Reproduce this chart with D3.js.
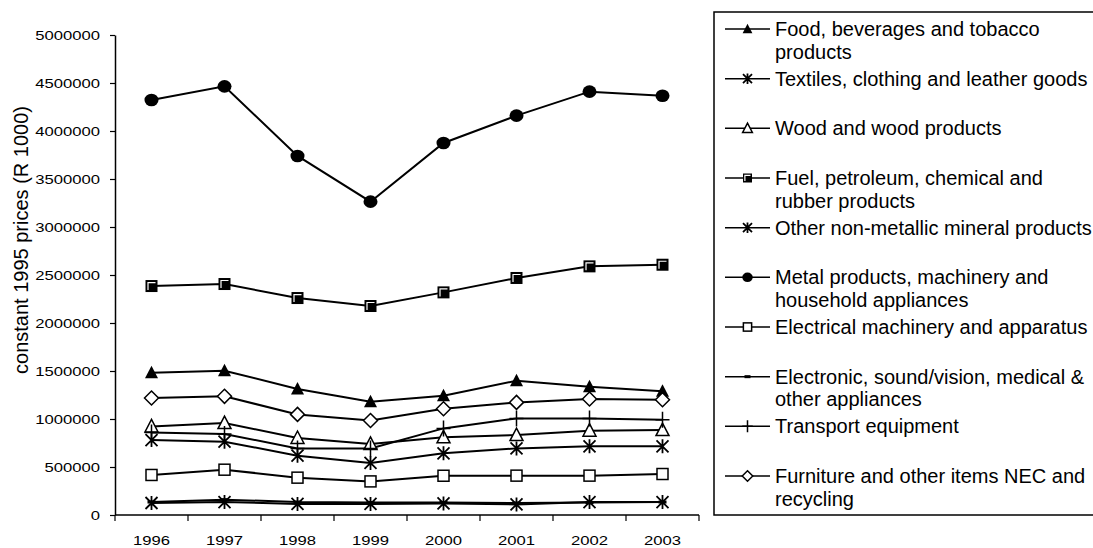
<!DOCTYPE html>
<html>
<head>
<meta charset="utf-8">
<script src="https://cdn.jsdelivr.net/npm/d3@7"></script>
<style>
  html, body { margin: 0; padding: 0; background: #fff; }
  svg { display: block; font-family: "Liberation Sans", Arial, sans-serif; }
</style>
</head>
<body>
<svg id="chart" width="1093" height="548"></svg>
<script>
const years = ["1996", "1997", "1998", "1999", "2000", "2001", "2002", "2003"];
const yTicks = [0, 500000, 1000000, 1500000, 2000000, 2500000, 3000000, 3500000, 4000000, 4500000, 5000000];
const yTitle = "constant 1995 prices (R 1000)";

const food        = [1482000, 1503000, 1313000, 1180000, 1243000, 1399000, 1336000, 1288000];
const textiles    = [781000, 764000, 618000, 542000, 642000, 694000, 715000, 715000];
const wood        = [923000, 958000, 802000, 740000, 809000, 833000, 878000, 885000];
const fuel        = [2385000, 2406000, 2260000, 2177000, 2319000, 2469000, 2590000, 2607000];
const nonMetallic = [125000, 135000, 115000, 115000, 120000, 110000, 135000, 135000];
const metal       = [4323000, 4465000, 3740000, 3264000, 3875000, 4160000, 4410000, 4367000];
const electrical  = [417000, 472000, 389000, 350000, 409000, 410000, 410000, 427000];
const electronic  = [135000, 160000, 135000, 130000, 130000, 125000, 130000, 135000];
const transport   = [860000, 843000, 694000, 694000, 902000, 1006000, 1006000, 993000];
const furniture   = [1219000, 1236000, 1048000, 985000, 1107000, 1173000, 1208000, 1200000];

const seriesNames = [
  ["Food, beverages and tobacco", "products"],
  ["Textiles, clothing and leather goods"],
  ["Wood and wood products"],
  ["Fuel, petroleum, chemical and", "rubber products"],
  ["Other non-metallic mineral products"],
  ["Metal products, machinery and", "household appliances"],
  ["Electrical machinery and apparatus"],
  ["Electronic, sound/vision, medical &", "other appliances"],
  ["Transport equipment"],
  ["Furniture and other items NEC and", "recycling"]
];
const seriesValues = [food, textiles, wood, fuel, nonMetallic, metal, electrical, electronic, transport, furniture];
const seriesMarkers = ["triFilled", "star", "triOpen", "squareFilled", "star", "circle", "squareOpen", "dash", "plus", "diamond"];

const svg = d3.select("#chart");
const margin = { left: 115, right: 699, top: 35, bottom: 515 };

const x = d3.scaleBand().domain(years).range([margin.left, margin.right]).padding(0);
const y = d3.scaleLinear().domain([0, 5000000]).range([margin.bottom, margin.top]);

const STRETCH = 1.28;
function stretchText(sel) {
  sel.each(function () {
    const w = this.getComputedTextLength();
    d3.select(this).attr("textLength", w * STRETCH).attr("lengthAdjust", "spacingAndGlyphs");
  });
}

function drawMarker(g, type, s) {
  const sw = 1.5;
  switch (type) {
    case "triFilled":
      g.append("path").attr("d", `M0,${-7*s}L${6.5*s},${5.5*s}L${-6.5*s},${5.5*s}Z`).attr("fill", "#000");
      break;
    case "triOpen":
      g.append("path").attr("d", `M0,${-7*s}L${6.5*s},${5.5*s}L${-6.5*s},${5.5*s}Z`)
        .attr("fill", "#fff").attr("stroke", "#000").attr("stroke-width", sw);
      break;
    case "star":
      g.append("path").attr("d", `M0,${-7*s}V${7*s}M${-6*s},${-6*s}L${6*s},${6*s}M${-6*s},${6*s}L${6*s},${-6*s}`)
        .attr("stroke", "#000").attr("stroke-width", 1.8).attr("fill", "none");
      break;
    case "squareFilled":
      g.append("rect").attr("x", -6*s).attr("y", -6*s).attr("width", 12*s).attr("height", 12*s).attr("fill", "#000");
      g.append("path").attr("d", `M${-3.5*s},${4*s}V${-3.5*s}H${4*s}`)
        .attr("stroke", "#fff").attr("stroke-width", 1.2).attr("fill", "none");
      break;
    case "circle":
      g.append("ellipse").attr("rx", 7*s).attr("ry", 6.3*s).attr("fill", "#000");
      break;
    case "squareOpen":
      g.append("rect").attr("x", -5.5*s).attr("y", -5.5*s).attr("width", 11*s).attr("height", 11*s)
        .attr("fill", "#fff").attr("stroke", "#000").attr("stroke-width", sw);
      break;
    case "dash":
      g.append("rect").attr("x", -4*s).attr("y", -1.5).attr("width", 8*s).attr("height", 3).attr("fill", "#000");
      break;
    case "plus":
      g.append("path").attr("d", `M0,${-8*s}V${8*s}M${-7*s},0H${7*s}`)
        .attr("stroke", "#000").attr("stroke-width", sw).attr("fill", "none");
      break;
    case "diamond":
      g.append("path").attr("d", `M0,${-7*s}L${7*s},0L0,${7*s}L${-7*s},0Z`)
        .attr("fill", "#fff").attr("stroke", "#000").attr("stroke-width", sw);
      break;
  }
}

// Axes
const yAxis = d3.axisLeft(y).tickValues(yTicks).tickSize(5).tickSizeOuter(0).tickPadding(10).tickFormat(d3.format("d"));
const gy = svg.append("g").attr("transform", `translate(${margin.left},0)`).call(yAxis);
gy.select(".domain").attr("stroke", "#000").attr("stroke-width", 1.5);
gy.selectAll(".tick line").attr("stroke", "#000").attr("stroke-width", 1.2);
gy.selectAll(".tick text").attr("font-size", 13).attr("font-family", "Liberation Sans, Arial, sans-serif")
  .attr("fill", "#000").call(stretchText);

const gx = svg.append("g").attr("transform", `translate(0,${margin.bottom})`);
gx.append("line").attr("x1", margin.left).attr("x2", margin.right).attr("y1", 0).attr("y2", 0)
  .attr("stroke", "#000").attr("stroke-width", 1.5);
const boundaries = years.map(d => x(d)).concat([x(years[years.length - 1]) + x.bandwidth()]);
gx.selectAll("line.bt").data(boundaries).enter().append("line").attr("class", "bt")
  .attr("x1", d => d).attr("x2", d => d).attr("y1", 0).attr("y2", 6)
  .attr("stroke", "#000").attr("stroke-width", 1.2);
gx.selectAll("text.yl").data(years).enter().append("text").attr("class", "yl")
  .attr("x", d => x(d) + x.bandwidth() / 2).attr("y", 30)
  .attr("text-anchor", "middle").attr("font-size", 13).attr("fill", "#000").text(d => d)
  .call(stretchText);

svg.append("text").attr("transform", `translate(28,240) rotate(-90)`)
  .attr("text-anchor", "middle").attr("font-size", 20).attr("fill", "#000").text(yTitle);

// Lines
const line = d3.line().x((d, i) => x(years[i]) + x.bandwidth() / 2).y(d => y(d));
seriesValues.forEach((vals) => {
  svg.append("path").datum(vals).attr("d", line).attr("fill", "none")
    .attr("stroke", "#000").attr("stroke-width", 2);
});
seriesValues.forEach((vals, si) => {
  vals.forEach((v, i) => {
    const g = svg.append("g").attr("transform", `translate(${x(years[i]) + x.bandwidth() / 2},${y(v)})`);
    drawMarker(g, seriesMarkers[si], 1);
  });
});

// Legend
const legend = svg.append("g");
legend.append("rect").attr("x", 714).attr("y", 12).attr("width", 390).attr("height", 503)
  .attr("fill", "#fff").attr("stroke", "#000").attr("stroke-width", 1.5);
const entryY = d3.scaleLinear().domain([0, 9]).range([29, 476]);
seriesNames.forEach((lines, i) => {
  const cy = entryY(i);
  legend.append("line").attr("x1", 725).attr("x2", 770).attr("y1", cy).attr("y2", cy)
    .attr("stroke", "#000").attr("stroke-width", 1.5);
  const g = legend.append("g").attr("transform", `translate(747.5,${cy})`);
  drawMarker(g, seriesMarkers[i], 0.75);
  lines.forEach((t, j) => {
    legend.append("text").attr("x", 775).attr("y", cy + j * 22.5).attr("dy", "0.35em")
      .attr("font-size", 20).attr("fill", "#000").text(t);
  });
});
</script>
</body>
</html>
